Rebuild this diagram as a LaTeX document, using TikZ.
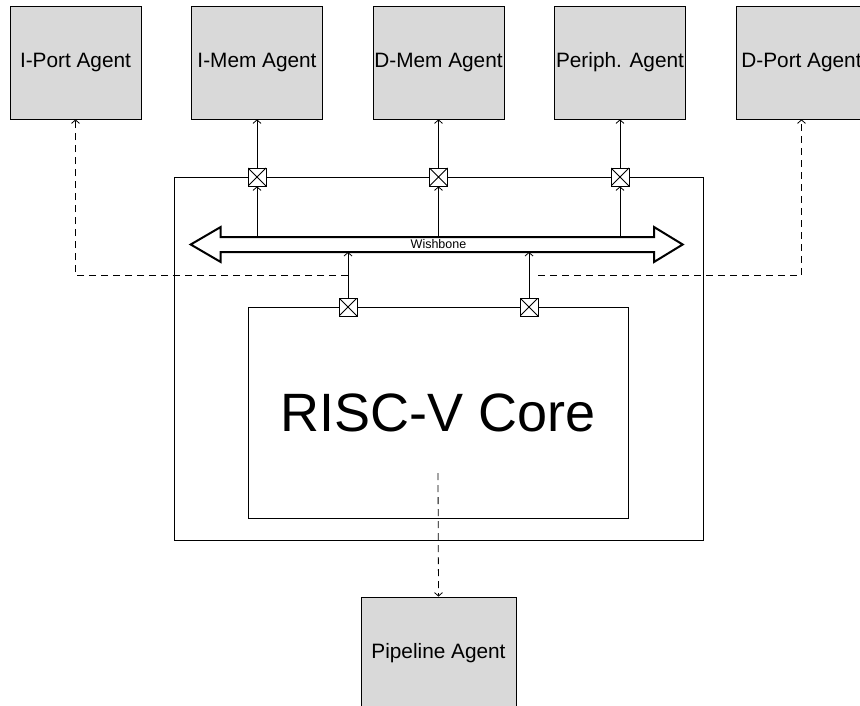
\documentclass[tikz,border=0pt]{standalone}
\usepackage{fontspec}
\setmainfont{Liberation Sans}
\usetikzlibrary{arrows.meta,positioning,calc}
\definecolor{agentgray}{HTML}{D9D9D9}

\begin{document}
\begin{tikzpicture}[x=1pt,y=-1pt,line width=0.8pt,
  agent/.style={draw,fill=agentgray,minimum width=131pt,minimum height=113pt,
    inner sep=0pt,font=\fontsize{20.8}{24}\selectfont},
  xport/.style={draw,fill=white,minimum size=18pt,inner sep=0pt,
    path picture={\draw (path picture bounding box.south west)--(path picture bounding box.north east)
      (path picture bounding box.north west)--(path picture bounding box.south east);}},
  link/.style={-{Straight Barb[length=3.5pt,width=8pt,line width=0.8pt]}},
  dlink/.style={link,dash pattern=on 7pt off 5pt}]

\useasboundingbox (0,0) rectangle (860,706);
\clip (0,0) rectangle (860,706);

% agents on top
\foreach \n/\t [count=\i] in {ip/I-Port Agent,im/I-Mem Agent,dm/D-Mem Agent,pa/Periph. Agent,dp/D-Port Agent}
{
	\node[agent] (\n) at ({75.5+181.5*(\i-1)},62.5) {\t};
}

% soc frame and core
\node[draw,minimum width=529pt,minimum height=363pt,inner sep=0pt] (soc) at (438.5,358.5) {};
\node[draw,minimum width=380pt,minimum height=211pt,inner sep=0pt,
  font=\fontsize{54}{60}\selectfont] (core) at (438,412.5) {RISC-V Core};

% wishbone bus
\draw[line width=2pt,line join=miter]
	(190.7,244.5) -- (220.7,227) -- (220.7,237) -- (654,237) -- (654,227)
	-- (682.7,244.5) -- (654,262) -- (654,252) -- (220.7,252) -- (220.7,262) -- cycle;
\node[font=\fontsize{12.5}{14}\selectfont,inner sep=0pt] (wb) at (438.5,244.5) {Wishbone};
\coordinate (bustop) at (0,237);
\coordinate (busbot) at (0,252);

% ports on the soc frame
\foreach \n/\a/\x in {pim/im/257,pdm/dm/438.5,ppa/pa/620}
{
	\node[xport] (\n) at (\x,177) {};
	\draw[link] (\n.south |- bustop) -- (\n.south);
	\draw[link] (\n.north) -- (\a.south);
}

% ports on the core
\node[xport] (cpi) at (348,307) {};
\node[xport] (cpd) at (529,307) {};
\draw[link] (cpi.north) -- (cpi.north |- busbot);
\draw[link] (cpd.north) -- (cpd.north |- busbot);

% direct port agents
\draw[dlink] ([yshift=22pt]cpi.north) -| (ip.south);
\draw[dlink] ([yshift=22pt]cpd.north east) -| (dp.south);

% pipeline agent
\node[agent,minimum width=155pt] (pipe) at (438.5,653.5) {Pipeline Agent};
\draw[dlink] ([yshift=-60.5pt]core.center) -- (pipe.north);

\end{tikzpicture}
\end{document}
